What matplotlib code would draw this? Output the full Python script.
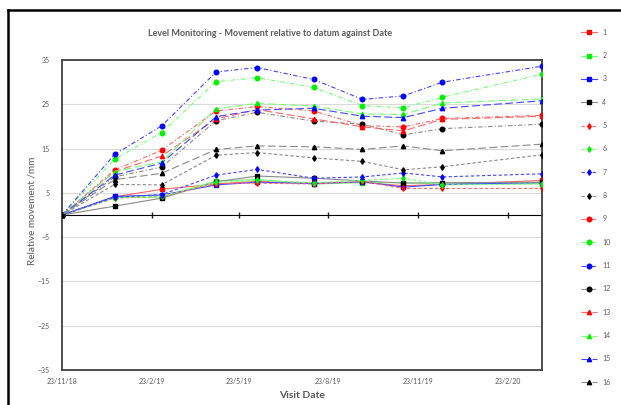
import matplotlib
matplotlib.use("Agg")
import matplotlib.pyplot as plt
import matplotlib.dates as mdates
import numpy as np
from matplotlib.lines import Line2D

plt.rcParams['font.family'] = ['Lato', 'DejaVu Sans']

# ---------------- data ----------------
visit_dates = ['2018-11-23', '2019-01-16', '2019-03-05', '2019-04-30', '2019-06-11',
               '2019-08-08', '2019-09-27', '2019-11-08', '2019-12-18', '2020-03-29']
series_names = [str(i) for i in range(1, 17)]

s1 = [0, 4.1, 5.8, 7.0, 7.6, 7.2, 7.4, 6.6, 6.9, 7.8]
s2 = [0, 4.0, 4.0, 7.7, 8.0, 7.0, 7.3, 7.3, 7.0, 7.1]
s3 = [0, 4.2, 4.5, 6.8, 7.4, 7.1, 7.5, 6.3, 6.9, 7.3]
s4 = [0, 2.0, 3.8, 7.5, 8.8, 8.3, 7.7, 7.2, 7.3, 7.4]
s5 = [0, 3.8, 4.2, 7.1, 7.2, 7.0, 7.6, 6.0, 6.0, 6.0]
s6 = [0, 3.9, 4.3, 7.4, 7.8, 7.3, 7.8, 8.3, 6.8, 7.0]
s7 = [0, 4.0, 4.6, 9.0, 10.3, 8.3, 8.6, 9.5, 8.6, 9.3]
s8 = [0, 6.9, 6.8, 13.5, 14.1, 12.9, 12.1, 10.2, 10.9, 13.6]
s9 = [0, 10.2, 14.6, 23.5, 24.5, 23.5, 20.2, 19.9, 21.8, 22.5]
s10 = [0, 12.6, 18.6, 30.1, 31.0, 28.8, 24.7, 24.2, 26.6, 31.8]
s11 = [0, 13.7, 20.1, 32.3, 33.3, 30.6, 26.1, 26.9, 30.0, 33.6]
s12 = [0, 8.6, 10.8, 21.3, 23.2, 21.2, 20.5, 18.1, 19.5, 20.5]
s13 = [0, 9.8, 13.3, 21.7, 23.8, 21.7, 19.9, 19.0, 21.6, 22.3]
s14 = [0, 9.8, 12.0, 24.0, 25.2, 24.6, 22.8, 22.7, 25.3, 26.2]
s15 = [0, 9.0, 11.7, 22.2, 23.7, 24.1, 22.3, 22.0, 24.1, 25.8]
s16 = [0, 8.0, 9.4, 14.8, 15.6, 15.4, 14.8, 15.6, 14.5, 16.0]
all_series = [s1, s2, s3, s4, s5, s6, s7, s8, s9, s10, s11, s12, s13, s14, s15, s16]

tick_dates = ['2018-11-23', '2019-02-23', '2019-05-23', '2019-08-23', '2019-11-23', '2020-02-23']
tick_labels = ['23/11/18', '23/2/19', '23/5/19', '23/8/19', '23/11/19', '23/2/20']
y_ticks = [-35, -25, -15, -5, 5, 15, 25, 35]

# ---------------- styles ----------------
base_colors = ['#FF0000', '#00EE00', '#0000FF', '#000000']
line_colors = ['#FF6666', '#77FF77', '#4444FF', '#8a8a8a']
group_styles = [
    dict(ls='-', marker='s', ms=3.3),
    dict(ls=(0, (3, 2)), marker='d', ms=2.8),
    dict(ls=(0, (4, 2, 1, 2)), marker='o', ms=3.3),
    dict(ls=(0, (7, 3)), marker='^', ms=3.1),
]

fig = plt.figure(figsize=(6.21, 4.05), dpi=100)
W, H = 621, 405
ax = fig.add_axes([62 / W, 1 - 370 / H, 480 / W, 310 / H])

x = mdates.datestr2num(visit_dates)
handles = []
for i, (name, vals) in enumerate(zip(series_names, all_series)):
    g = i // 4
    c = i % 4
    st = group_styles[g]
    ln, = ax.plot(x, vals, linestyle=st['ls'], marker=st['marker'], markersize=st['ms'],
                  color=line_colors[c], markerfacecolor=base_colors[c],
                  markeredgecolor=base_colors[c], linewidth=0.8, label=name, zorder=3)
    handles.append(ln)

ax.set_xlim(x[0], x[-1])
ax.set_ylim(-35, 35)
ax.set_yticks(y_ticks)
ax.set_xticks(mdates.datestr2num(tick_dates))
ax.set_xticklabels(tick_labels)
gray = '#595959'
ax.tick_params(axis='both', length=0, labelsize=5, colors=gray)
ax.tick_params(axis='x', pad=6)
ax.tick_params(axis='y', pad=9)
ax.yaxis.grid(True, color='#d9d9d9', linewidth=0.8, zorder=0)
ax.set_axisbelow(True)
for sp in ax.spines.values():
    sp.set_color('#404040')
    sp.set_linewidth(1.3)

# horizontal axis line through zero with tick marks (no labels)
sec = ax.secondary_xaxis(0.5)
sec.set_xticks(mdates.datestr2num(tick_dates), labels=[''] * len(tick_dates))
sec.tick_params(axis='x', direction='inout', length=5, width=1.0, color='#202020')
sec.spines['bottom'].set_color('#202020')
sec.spines['bottom'].set_linewidth(1.2)

# texts
fig.text(270 / W, 1 - 33 / H, 'Level Monitoring - Movement relative to datum against Date',
         ha='center', va='center', fontsize=6.5, fontweight='bold', color=gray)
fig.text(32 / W, 1 - 211 / H, 'Relative movement /mm', rotation=90, ha='center',
         va='center', fontsize=7.2, color=gray)
fig.text(302 / W, 1 - 395 / H, 'Visit Date', ha='center', va='center', fontsize=7.5,
         fontweight='bold', color=gray)

# outer chart frame (left and top edges visible)
fig.add_artist(Line2D([8 / W, 8 / W], [0, 1 - 10 / H], color='black', linewidth=1.8,
                      transform=fig.transFigure))
fig.add_artist(Line2D([8 / W, 1], [1 - 10 / H, 1 - 10 / H], color='black', linewidth=1.8,
                      transform=fig.transFigure))

fig.legend(handles=handles, labels=series_names, loc='upper left',
           bbox_to_anchor=(578 / W, 1 - 26 / H), frameon=False, fontsize=5,
           handlelength=2.3, handletextpad=0.8, labelspacing=2.35, borderaxespad=0,
           labelcolor=gray)

fig.savefig('out.png', dpi=100)
